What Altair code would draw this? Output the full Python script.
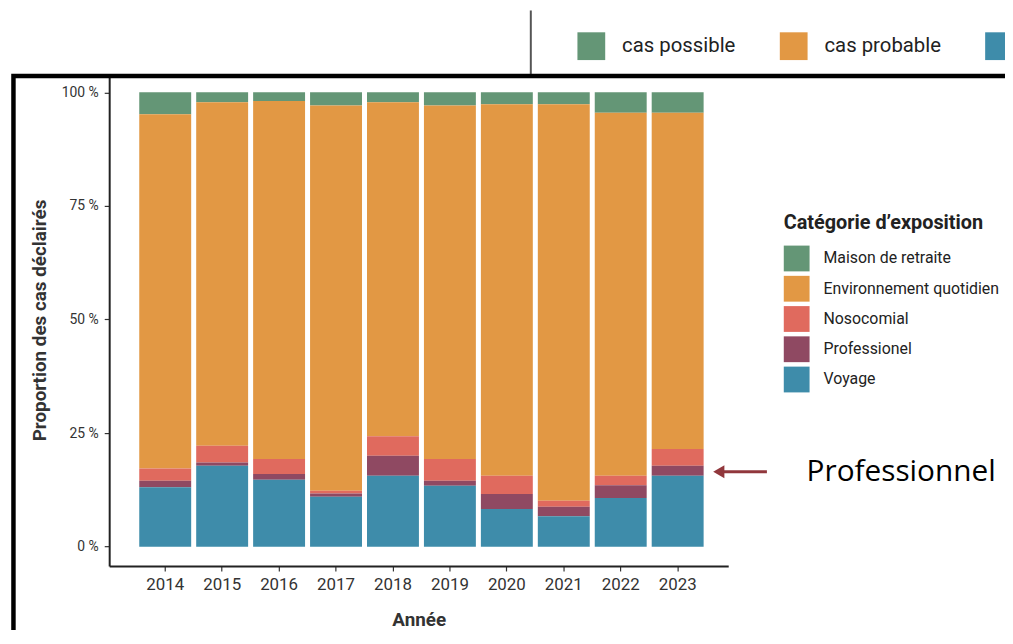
import altair as alt
import pandas as pd

# ---- data (percent of declared cases) ----
years = ["2014", "2015", "2016", "2017", "2018", "2019", "2020", "2021", "2022", "2023"]
voyage = [13.1, 17.8, 14.7, 11.0, 15.6, 13.4, 8.3, 6.7, 10.7, 15.6]
professionel = [1.4, 0.7, 1.3, 0.7, 4.4, 1.1, 3.3, 2.1, 2.8, 2.2]
nosocomial = [2.7, 3.7, 3.3, 0.6, 4.3, 4.8, 4.0, 1.3, 2.1, 3.7]
environnement = [78.0, 75.6, 78.8, 84.8, 73.5, 77.8, 81.8, 87.3, 79.9, 74.0]
maison = [4.8, 2.2, 1.9, 2.9, 2.2, 2.9, 2.6, 2.6, 4.5, 4.5]

categories = ["Maison de retraite", "Environnement quotidien", "Nosocomial", "Professionel", "Voyage"]
cat_colors = ["#649676", "#E29844", "#E06A5E", "#8F4962", "#3E8CAA"]
stack_rank = [4, 3, 2, 1, 0]

statuts = ["cas possible", "cas probable", "cas confirmé"]
statut_colors = ["#649676", "#E29844", "#3E8CAA"]

annotation = ["Professionnel"]

series = [maison, environnement, nosocomial, professionel, voyage]
rows = []
for cat, rank, vals in zip(categories, stack_rank, series):
    for yr, v in zip(years, vals):
        rows.append({"annee": yr, "categorie": cat, "part": v, "rang": rank})
df = pd.DataFrame(rows)

FONT = "Roboto"

bars = alt.Chart(df).mark_bar(opacity=1).encode(
    x=alt.X(
        "annee:N",
        title="Année",
        scale=alt.Scale(paddingInner=0.088, paddingOuter=0.48, align=0.55),
        axis=alt.Axis(labelAngle=0, labelFontSize=17, labelPadding=6, titlePadding=18),
    ),
    y=alt.Y(
        "part:Q",
        stack="normalize",
        title="Proportion des cas déclairés",
        scale=alt.Scale(domain=[-0.0426, 1.0404], nice=False, zero=False),
        axis=alt.Axis(
            values=[0, 0.25, 0.5, 0.75, 1],
            labelExpr="round(datum.value*100) + ' %'",
            labelFontSize=14,
            labelPadding=6,
            titlePadding=12,
        ),
    ),
    color=alt.Color(
        "categorie:N",
        scale=alt.Scale(domain=categories, range=cat_colors),
        legend=alt.Legend(
            orient="none",
            legendX=680,
            legendY=140,
            title="Catégorie d’exposition",
            titleFontSize=20,
            titleFontWeight="bold",
            titleColor="#222222",
            titleFont=FONT,
            titleLimit=500,
            titlePadding=13,
            labelFont=FONT,
            labelFontSize=16,
            labelColor="#222222",
            labelLimit=400,
            labelOffset=14,
            symbolType="square",
            symbolSize=676,
            symbolStrokeWidth=0,
            symbolOpacity=1,
            rowPadding=4.5,
            offset=0,
            padding=0,
        ),
    ),
    order=alt.Order("rang:Q", sort="ascending"),
)

top_legend = alt.Chart(pd.DataFrame({"statut": statuts})).mark_point(
    size=0, filled=True, opacity=1
).encode(
    fill=alt.Fill(
        "statut:N",
        scale=alt.Scale(domain=statuts, range=statut_colors),
        legend=alt.Legend(
            orient="none",
            legendX=472,
            legendY=-42,
            direction="horizontal",
            title=None,
            labelFont=FONT,
            labelFontSize=20.5,
            labelColor="#222222",
            labelOffset=17,
            labelLimit=400,
            labelExpr="datum.label == 'cas confirmé' ? '' : datum.label",
            symbolType="square",
            symbolSize=784,
            symbolStrokeWidth=0,
            symbolOpacity=1,
            columnPadding=44,
            padding=0,
        ),
    ),
)

one = pd.DataFrame({"a": [0]})

divider = alt.Chart(one).mark_rule(color="#555555", strokeWidth=2).encode(
    x=alt.value(425), y=alt.value(-64), y2=alt.value(0)
)

arrow_shaft = alt.Chart(one).mark_rule(color="#91373C", strokeWidth=3).encode(
    x=alt.value(618), x2=alt.value(663), y=alt.value(401)
)
arrow_head = alt.Chart(one).mark_point(
    shape="triangle-left", size=170, filled=True, opacity=1, color="#91373C"
).encode(x=alt.value(614.5), y=alt.value(401))

label = alt.Chart(pd.DataFrame({"t": annotation})).mark_text(
    align="left", baseline="middle", font="Open Sans", fontSize=30, color="#000000"
).encode(x=alt.value(703), y=alt.value(401), text="t:N")

frame = alt.Chart(one).mark_rect(
    fillOpacity=0, stroke="#000000", strokeWidth=4.5
).encode(x=alt.value(-96.5), x2=alt.value(1000), y=alt.value(2), y2=alt.value(700))

chart = (
    alt.layer(bars, top_legend, divider, arrow_shaft, arrow_head, label, frame)
    .properties(
        width=624,
        height=496,
        autosize=alt.AutoSizeParams(type="none"),
        padding={"left": 102, "top": 64, "right": 279, "bottom": 62},
        background="white",
    )
    .configure_view(stroke=None)
    .configure_axis(
        grid=False,
        labelFont=FONT,
        labelColor="#333333",
        titleFont=FONT,
        titleFontSize=19,
        titleFontWeight="bold",
        titleColor="#333333",
        domainColor="#222222",
        domainWidth=2,
        tickColor="#333333",
        tickSize=5,
        tickWidth=1.2,
    )
)

chart.save("out.html", embed_options={"renderer": "svg", "actions": False})
